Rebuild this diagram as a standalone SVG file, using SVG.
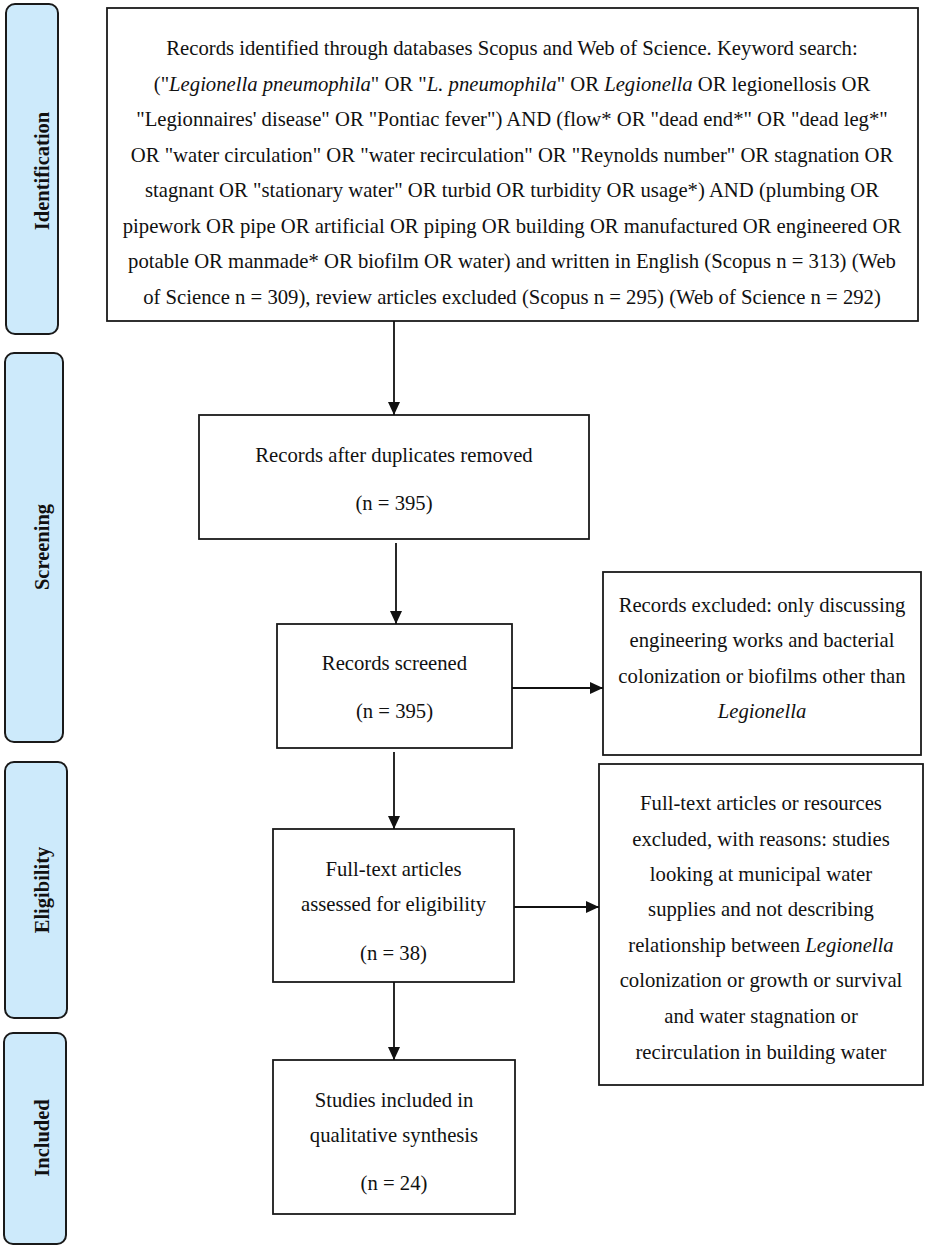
<svg xmlns="http://www.w3.org/2000/svg" width="928" height="1249" viewBox="0 0 928 1249">
<defs>
<marker id="arr" viewBox="0 0 13 12" refX="13" refY="6" markerWidth="13" markerHeight="12" markerUnits="userSpaceOnUse" orient="auto">
<path d="M0,0 L13,6 L0,12 Z" fill="#111"/>
</marker>
</defs>
<style>
.stage{fill:#cdeafb;stroke:#1a1a1a;stroke-width:2}
.box{fill:#fff;stroke:#1a1a1a;stroke-width:1.8}
.t{font-size:20.7px;fill:#111;text-anchor:middle}
.lab{font-size:20.5px;font-weight:bold;fill:#111;text-anchor:middle}
.i{font-style:italic}
.c{stroke:#111;stroke-width:1.8;fill:none}
</style>
<rect width="928" height="1249" fill="#fff"/>

<g font-family="Liberation Serif">
<g id="stage-identification">
<rect class="stage" x="6" y="4" width="52" height="330" rx="9"/>
<text class="lab" font-family="Liberation Serif" transform="translate(49,171) rotate(-90)">Identification</text>
</g>
<g id="stage-screening">
<rect class="stage" x="5" y="353" width="58" height="389" rx="9"/>
<text class="lab" font-family="Liberation Serif" transform="translate(49,547) rotate(-90)">Screening</text>
</g>
<g id="stage-eligibility">
<rect class="stage" x="5" y="762" width="62" height="256" rx="9"/>
<text class="lab" font-family="Liberation Serif" transform="translate(49,890) rotate(-90)">Eligibility</text>
</g>
<g id="stage-included">
<rect class="stage" x="4" y="1033" width="62" height="211" rx="9"/>
<text class="lab" font-family="Liberation Serif" transform="translate(49,1138) rotate(-90)">Included</text>
</g>

<g id="node-identified" font-family="Liberation Serif">
<rect class="box" x="107" y="8" width="811" height="313"/>
<text class="t" font-family="Liberation Serif" x="512" y="55">Records identified through databases Scopus and Web of Science. Keyword search:</text>
<text class="t" font-family="Liberation Serif" x="512" y="90.5">("<tspan class="i">Legionella pneumophila</tspan>" OR "<tspan class="i">L. pneumophila</tspan>" OR <tspan class="i">Legionella</tspan> OR legionellosis OR</text>
<text class="t" font-family="Liberation Serif" x="512" y="126">"Legionnaires' disease" OR "Pontiac fever") AND (flow* OR "dead end*" OR "dead leg*"</text>
<text class="t" font-family="Liberation Serif" x="512" y="161.5">OR "water circulation" OR "water recirculation" OR "Reynolds number" OR stagnation OR</text>
<text class="t" font-family="Liberation Serif" x="512" y="197">stagnant OR "stationary water" OR turbid OR turbidity OR usage*) AND (plumbing OR</text>
<text class="t" font-family="Liberation Serif" x="512" y="233">pipework OR pipe OR artificial OR piping OR building OR manufactured OR engineered OR</text>
<text class="t" font-family="Liberation Serif" x="512" y="268">potable OR manmade* OR biofilm OR water) and written in English (Scopus n = 313) (Web</text>
<text class="t" font-family="Liberation Serif" x="512" y="304">of Science n = 309), review articles excluded (Scopus n = 295) (Web of Science n = 292)</text>
</g>

<g id="node-duplicates" font-family="Liberation Serif">
<rect class="box" x="199" y="415" width="390" height="124"/>
<text class="t" font-family="Liberation Serif" x="394" y="462">Records after duplicates removed</text>
<text class="t" font-family="Liberation Serif" x="394" y="510">(n = 395)</text>
</g>

<g id="node-screened" font-family="Liberation Serif">
<rect class="box" x="277" y="624" width="235" height="124"/>
<text class="t" font-family="Liberation Serif" x="394.5" y="670">Records screened</text>
<text class="t" font-family="Liberation Serif" x="394.5" y="718">(n = 395)</text>
</g>

<g id="node-excluded" font-family="Liberation Serif">
<rect class="box" x="603" y="572" width="318" height="183"/>
<text class="t" font-family="Liberation Serif" x="762" y="612">Records excluded: only discussing</text>
<text class="t" font-family="Liberation Serif" x="762" y="647">engineering works and bacterial</text>
<text class="t" font-family="Liberation Serif" x="762" y="683">colonization or biofilms other than</text>
<text class="t i" font-family="Liberation Serif" x="762" y="718">Legionella</text>
</g>

<g id="node-fulltext" font-family="Liberation Serif">
<rect class="box" x="273" y="829" width="241" height="153"/>
<text class="t" font-family="Liberation Serif" x="393.5" y="876">Full-text articles</text>
<text class="t" font-family="Liberation Serif" x="393.5" y="911">assessed for eligibility</text>
<text class="t" font-family="Liberation Serif" x="393.5" y="960">(n = 38)</text>
</g>

<g id="node-fulltext-excluded" font-family="Liberation Serif">
<rect class="box" x="599" y="764" width="324" height="321"/>
<text class="t" font-family="Liberation Serif" x="761" y="810">Full-text articles or resources</text>
<text class="t" font-family="Liberation Serif" x="761" y="846">excluded, with reasons: studies</text>
<text class="t" font-family="Liberation Serif" x="761" y="881">looking at municipal water</text>
<text class="t" font-family="Liberation Serif" x="761" y="916">supplies and not describing</text>
<text class="t" font-family="Liberation Serif" x="761" y="952">relationship between <tspan class="i">Legionella</tspan></text>
<text class="t" font-family="Liberation Serif" x="761" y="987">colonization or growth or survival</text>
<text class="t" font-family="Liberation Serif" x="761" y="1023">and water stagnation or</text>
<text class="t" font-family="Liberation Serif" x="761" y="1059">recirculation in building water</text>
</g>

<g id="node-included" font-family="Liberation Serif">
<rect class="box" x="273" y="1060" width="242" height="154"/>
<text class="t" font-family="Liberation Serif" x="394" y="1107">Studies included in</text>
<text class="t" font-family="Liberation Serif" x="394" y="1142">qualitative synthesis</text>
<text class="t" font-family="Liberation Serif" x="394" y="1190">(n = 24)</text>
</g>
</g>

<g id="connectors">
<line class="c" x1="394" y1="321" x2="394" y2="415" marker-end="url(#arr)"/>
<line class="c" x1="396" y1="543" x2="396" y2="624" marker-end="url(#arr)"/>
<line class="c" x1="394" y1="752" x2="394" y2="829" marker-end="url(#arr)"/>
<line class="c" x1="394" y1="982" x2="394" y2="1060" marker-end="url(#arr)"/>
<line class="c" x1="512" y1="688" x2="603" y2="688" marker-end="url(#arr)"/>
<line class="c" x1="514" y1="907" x2="599" y2="907" marker-end="url(#arr)"/>
</g>
</svg>
